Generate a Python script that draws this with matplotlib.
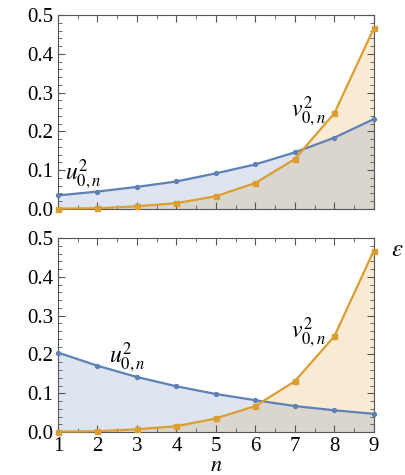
import numpy as np
import matplotlib
matplotlib.use('Agg')
import matplotlib.pyplot as plt
from matplotlib.ticker import MultipleLocator

plt.rcParams['font.family'] = ['Liberation Serif', 'DejaVu Serif']
plt.rcParams['mathtext.fontset'] = 'stix'

# data
n = [1, 2, 3, 4, 5, 6, 7, 8, 9]
u_top = [0.035, 0.045, 0.057, 0.071, 0.092, 0.115, 0.146, 0.184, 0.232]
v_top = [0.001, 0.002, 0.007, 0.015, 0.033, 0.067, 0.129, 0.247, 0.466]
u_bot = [0.205, 0.171, 0.142, 0.118, 0.098, 0.082, 0.067, 0.056, 0.047]
v_bot = [0.001, 0.002, 0.007, 0.015, 0.035, 0.067, 0.131, 0.247, 0.468]

blue = '#5E81B5'
orange = '#DA9E32'
frame_col = '#555555'

fig = plt.figure(figsize=(4.05, 4.75), dpi=100)
ax1 = fig.add_axes([0.143, 0.56, 0.78, 0.408])
ax2 = fig.add_axes([0.143, 0.0905, 0.78, 0.408])


def panel(ax, u, v, ulab, vlab, show_x):
    ax.fill_between(n, 0, v, color='#E19C24', alpha=0.2, lw=0)
    ax.fill_between(n, 0, u, color=blue, alpha=0.2, lw=0)
    ax.plot(n, u, color=blue, lw=1.6, marker='o', ms=2.8, clip_on=False, zorder=3)
    ax.plot(n, v, color=orange, lw=1.6, marker='s', ms=3.6, clip_on=False, zorder=3)
    ax.set_xlim(1, 9)
    ax.set_ylim(0, 0.5)
    ax.xaxis.set_major_locator(MultipleLocator(1))
    ax.xaxis.set_minor_locator(MultipleLocator(0.5))
    ax.yaxis.set_major_locator(MultipleLocator(0.1))
    ax.yaxis.set_minor_locator(MultipleLocator(0.02))
    ax.tick_params(which='both', direction='in', top=True, right=True,
                   color=frame_col, labelsize=15, labelcolor='black')
    ax.tick_params(which='major', length=5)
    ax.tick_params(which='minor', length=3)
    ax.yaxis.set_major_formatter(plt.FuncFormatter(lambda y, p: '%.1f' % y))
    if not show_x:
        ax.tick_params(labelbottom=False)
    for s in ax.spines.values():
        s.set_color(frame_col)
        s.set_linewidth(0.8)
    ax.text(ulab[0], ulab[1], r'$u_{0,n}^{2}$', fontsize=17, va='center')
    ax.text(vlab[0], vlab[1], r'$v_{0,n}^{2}$', fontsize=17, va='center')


panel(ax1, u_top, v_top, (1.18, 0.088), (6.9, 0.25), False)
panel(ax2, u_bot, v_bot, (2.3, 0.19), (6.9, 0.255), True)

ax2.set_xlabel(r'$n$', fontsize=16, labelpad=1)
fig.text(0.965, 0.474, r'$\varepsilon$', fontsize=18, va='center', ha='left')

fig.savefig('out.png', dpi=100)
